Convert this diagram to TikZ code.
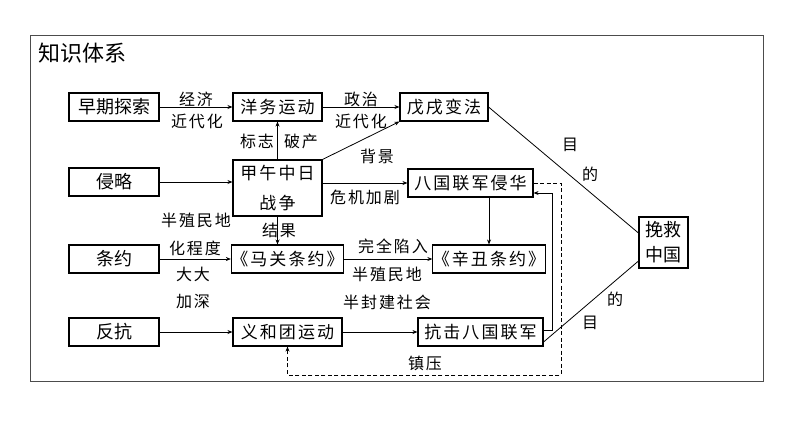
\documentclass[tikz,border=0pt]{standalone}
\usepackage{fontspec}
\newfontfamily\cjk{Noto Sans CJK SC}
\newfontfamily\cjksp[LetterSpace=12]{Noto Sans CJK SC}
\usetikzlibrary{arrows.meta,calc}
\tikzset{
  box/.style={draw, line width=1.1pt, inner sep=0pt, align=center},
  lbox/.style={box, font=\cjk\fontsize{18}{20}\selectfont, minimum width=90pt, minimum height=28pt},
  sbox/.style={box, font=\cjksp\fontsize{17}{30}\selectfont, minimum height=28pt},
  lab/.style={font=\cjksp\fontsize{16}{18}\selectfont, inner sep=0pt},
  arr/.style={-{Stealth[length=5pt,width=4pt]}, line width=0.8pt},
  ln/.style={line width=0.8pt},
  dash line/.style={dashed, dash pattern=on 4pt off 2.5pt, line width=0.8pt}
}
\begin{document}
\begin{tikzpicture}[x=1pt,y=-1pt]
\useasboundingbox (0,0) rectangle (794,447);
\fill[white] (0,0) rectangle (794,447);
\draw[line width=0.9pt, black!70] (30,35) rectangle (763,381);
\node[font=\cjk\fontsize{22}{24}\selectfont, inner sep=0pt] (title) at (82,53) {知识体系};

% left column
\node[lbox] (zaoqi) at (114,107) {早期探索};
\node[lbox] (qinlue) at (114,182) {侵略};
\node[lbox] (tiaoyue) at (114,259) {条约};
\node[lbox] (fankang) at (114,332) {反抗};

% boxes
\node[sbox, minimum width=89pt] (yangwu) at (277.5,107) {洋务运动};
\node[sbox, minimum width=88pt] (wuxu) at (444,107) {戊戌变法};
\node[sbox, minimum width=89pt, minimum height=56pt] (jiawu) at (277.5,188) {甲午中日\\战争};
\node[sbox, minimum width=125pt] (baguo) at (470.5,183) {八国联军侵华};
\node[sbox, minimum width=109pt] (maguan) at (287.5,259) {《马关条约》};
\node[sbox, minimum width=108pt] (xinchou) at (489,259) {《辛丑条约》};
\node[sbox, minimum width=109pt] (yihetuan) at (287.5,332) {义和团运动};
\node[sbox, minimum width=125pt] (kangji) at (480.5,332) {抗击八国联军};
\node[box, font=\cjk\fontsize{18}{25}\selectfont, minimum width=49pt, minimum height=51pt] (wanjiu) at (663.5,242.5) {挽救\\中国};

% connectors
\draw[arr] (zaoqi) -- (yangwu);
\draw[arr] (yangwu) -- (wuxu);
\draw[arr] (jiawu.north) -- (yangwu.south);
\draw[arr] (jiawu.north east) -- (wuxu.south west);
\draw[arr] (qinlue.east) -- (qinlue.east -| jiawu.west);
\draw[arr] ($(jiawu.east)+(0,-5)$) -- ($(baguo.west)+(0,0)$);
\draw[arr] (jiawu.south) -- (jiawu.south |- maguan.north);
\draw[arr] (tiaoyue) -- (maguan);
\draw[arr] (maguan) -- (xinchou);
\draw[arr] (xinchou.north |- baguo.south) -- (xinchou.north);
\draw[arr] (fankang) -- (yihetuan);
\draw[arr] (yihetuan) -- (kangji);
\coordinate (kr) at (552,330);
\draw[arr] ($(kangji.east)+(0,-2)$) -- (kr) -- (kr |- 0,193) -- ($(baguo.east)+(0,10)$);
\coordinate (d1) at (561,183);
\coordinate (d2) at (561,375);
\draw[dash line, -{Stealth[length=5pt,width=4pt]}] (baguo.east) -- (d1) -- (d2) -- (d2 -| yihetuan.south) -- (yihetuan.south);
\draw[ln] (wuxu.east) -- ($(wanjiu.west)+(0,-9.5)$);
\draw[ln] ($(kangji.east)+(0,10)$) -- ($(wanjiu.west)+(0,18.5)$);

% labels
\node[lab] (l1) at (196,99) {经济};
\node[lab] (l2) at (197,121) {近代化};
\node[lab] (l3) at (361,99) {政治};
\node[lab] (l4) at (361,121) {近代化};
\node[lab] (l5) at (257,141) {标志};
\node[lab] (l6) at (301,141) {破产};
\node[lab] (l7) at (377,156) {背景};
\node[lab] (l8) at (365,197) {危机加剧};
\node[lab] (l9) at (196,220) {半殖民地};
\node[lab] (l10) at (195,248) {化程度};
\node[lab] (l11) at (193,274) {大大};
\node[lab] (l12) at (193,302) {加深};
\node[lab] (l13) at (279,230) {结果};
\node[lab] (l14) at (393,246) {完全陷入};
\node[lab] (l15) at (387,274) {半殖民地};
\node[lab] (l16) at (387,302) {半封建社会};
\node[lab] (l17) at (425,363) {镇压};
\node[lab] (l18) at (570,145) {目};
\node[lab] (l19) at (590,174) {的};
\node[lab] (l20) at (615,299) {的};
\node[lab] (l21) at (590,323) {目};
\end{tikzpicture}
\end{document}
